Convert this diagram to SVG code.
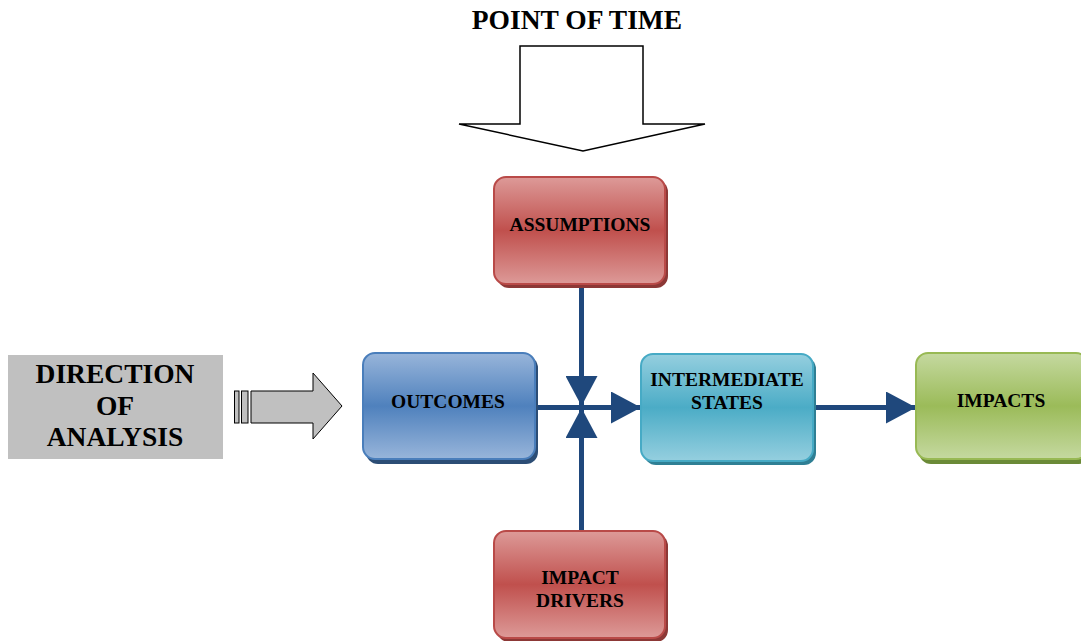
<svg xmlns="http://www.w3.org/2000/svg" width="1081" height="641" viewBox="0 0 1081 641">
<defs>
<linearGradient id="gRed" x1="0" y1="0" x2="0" y2="1">
<stop offset="0" stop-color="#dd9a98"/><stop offset="0.5" stop-color="#c0504d"/><stop offset="1" stop-color="#dd9a98"/>
</linearGradient>
<linearGradient id="gBlue" x1="0" y1="0" x2="0" y2="1">
<stop offset="0" stop-color="#98b5da"/><stop offset="0.5" stop-color="#4f81bd"/><stop offset="1" stop-color="#98b5da"/>
</linearGradient>
<linearGradient id="gTeal" x1="0" y1="0" x2="0" y2="1">
<stop offset="0" stop-color="#95cfdf"/><stop offset="0.5" stop-color="#4bacc6"/><stop offset="1" stop-color="#95cfdf"/>
</linearGradient>
<linearGradient id="gGreen" x1="0" y1="0" x2="0" y2="1">
<stop offset="0" stop-color="#c5d9a0"/><stop offset="0.5" stop-color="#9bbb59"/><stop offset="1" stop-color="#c5d9a0"/>
</linearGradient>
<marker id="ah" viewBox="0 0 30 32" refX="30" refY="16" markerWidth="30" markerHeight="32" markerUnits="userSpaceOnUse" orient="auto">
<path d="M0,0 L30,16 L0,32 Z" fill="#1f487c"/>
</marker>
</defs>
<style>
.t{font-family:"Liberation Serif","Times New Roman",serif;font-weight:bold;fill:#000;text-anchor:middle}
.n{font-size:19.5px}
.big{font-size:27.5px}
.conn{stroke:#1f487c;stroke-width:5;fill:none}
</style>

<g id="point-of-time">
<text class="t big" x="577" y="29">POINT OF TIME</text>
<path d="M520,46 L643,46 L643,124 L705,124 L583,151 L459,124 L520,124 Z" fill="#fff" stroke="#000" stroke-width="1.5"/>
</g>

<g id="direction-of-analysis">
<rect x="8" y="355" width="215" height="104" fill="#c0c0c0"/>
<text class="t big" x="115" y="383">DIRECTION</text>
<text class="t big" x="115" y="415">OF</text>
<text class="t big" x="115" y="446">ANALYSIS</text>
<rect x="234.5" y="391" width="4.5" height="32" fill="#c0c0c0" stroke="#000" stroke-width="1"/>
<rect x="241.5" y="391" width="6.5" height="32" fill="#c0c0c0" stroke="#000" stroke-width="1"/>
<path d="M251,391 L313,391 L313,373 L342,406 L313,439 L313,423 L251,423 Z" fill="#c0c0c0" stroke="#000" stroke-width="1"/>
</g>

<g id="connectors">
<line class="conn" x1="581.5" y1="288" x2="581.5" y2="406" marker-end="url(#ah)"/>
<line class="conn" x1="581.5" y1="531" x2="581.5" y2="408" marker-end="url(#ah)"/>
<line class="conn" x1="537" y1="407.5" x2="641" y2="407.5" marker-end="url(#ah)"/>
<line class="conn" x1="814" y1="407.5" x2="916" y2="407.5" marker-end="url(#ah)"/>
</g>

<g id="assumptions">
<rect x="497" y="180" width="171" height="108" rx="12" fill="#8c3836"/>
<rect x="494" y="177" width="171" height="107" rx="12" fill="url(#gRed)" stroke="#b94a48" stroke-width="2"/>
<text class="t n" x="580" y="231">ASSUMPTIONS</text>
</g>

<g id="outcomes">
<rect x="366" y="356" width="172" height="108" rx="12" fill="#2c4d75"/>
<rect x="363" y="353" width="172" height="106" rx="12" fill="url(#gBlue)" stroke="#4a7ebb" stroke-width="2"/>
<text class="t n" x="448" y="408">OUTCOMES</text>
</g>

<g id="intermediate-states">
<rect x="644" y="357" width="172" height="108" rx="12" fill="#2f7f94"/>
<rect x="641" y="354" width="172" height="107" rx="12" fill="url(#gTeal)" stroke="#46aac5" stroke-width="2"/>
<text class="t n" x="727" y="386">INTERMEDIATE</text>
<text class="t n" x="727" y="409">STATES</text>
</g>

<g id="impacts">
<rect x="919" y="356" width="172" height="108" rx="12" fill="#6b8a37"/>
<rect x="916" y="353" width="172" height="106" rx="12" fill="url(#gGreen)" stroke="#98b954" stroke-width="2"/>
<text class="t n" x="1001" y="407">IMPACTS</text>
</g>

<g id="impact-drivers">
<rect x="497" y="534" width="171" height="108" rx="12" fill="#8c3836"/>
<rect x="494" y="531" width="171" height="107" rx="12" fill="url(#gRed)" stroke="#b94a48" stroke-width="2"/>
<text class="t n" x="580" y="584">IMPACT</text>
<text class="t n" x="580" y="607">DRIVERS</text>
</g>
</svg>
